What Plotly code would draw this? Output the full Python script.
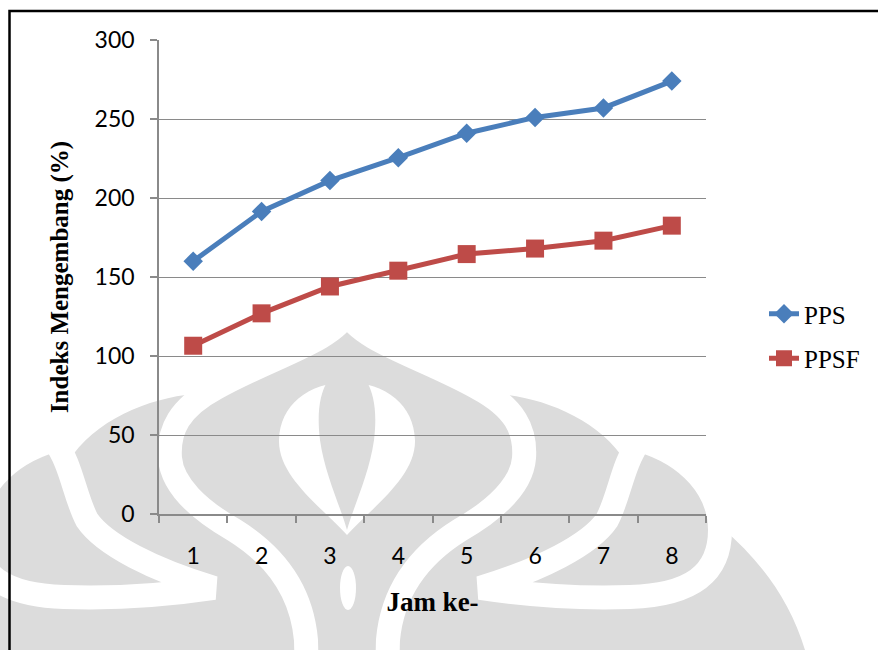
import plotly.graph_objects as go

# ---- data -------------------------------------------------------------
jam = [1, 2, 3, 4, 5, 6, 7, 8]
pps = [160, 191.5, 211, 225.5, 241, 251, 257, 274]
ppsf = [106.5, 127, 144, 154, 164.5, 168, 173, 182.5]
y_ticks = [0, 50, 100, 150, 200, 250, 300]

# ---- page geometry (pixels) ------------------------------------------
W, H = 878, 650
L, R, T, B = 159, 172, 40, 136
PW, PH = W - L - R, H - T - B

BLUE = "#4a7ebb"
RED = "#be4b48"
GRID = "#8a8a8a"
SHADE = "#dcdcdc"


def to_paper(x, y):
    return (x - L) / PW, (H - B - y) / PH


def path(spec, mirror=False, cx=347):
    """Turn a pixel-space SVG path into paper coordinates."""
    out = []
    for tok in spec.split():
        if "," in tok:
            x, y = (float(v) for v in tok.split(","))
            if mirror:
                x = 2 * cx - x
            px, py = to_paper(x, y)
            out.append(f"{px:.4f},{py:.4f}")
        else:
            out.append(tok)
    return " ".join(out)


# faint emblem in the page background
outer_petals = (
    "M 347,440 L 470,400 L 500,394 C 545,398 600,420 626,462 L 680,530 "
    "L 722,528 C 760,560 790,600 805,650 L 815,720 L 347,720 Z"
)
crescent = (
    "M 640,440 C 690,455 720,490 720,530 C 720,575 690,595 630,597 "
    "C 570,599 520,594 480,588 C 540,570 590,545 607,520 "
    "C 620,495 622,465 640,440 Z"
)
dome = (
    "M 347,312 C 358,340 425,358 478,388 C 515,408 526,430 524,458 "
    "C 522,485 495,510 460,530 C 415,558 392,595 388,640 L 386,720 "
    "L 308,720 L 306,640 C 302,595 279,558 234,530 C 199,510 172,485 170,458 "
    "C 168,430 179,408 216,388 C 269,358 336,340 347,312 Z"
)
inner = (
    "M 347,382 C 308,383 280,405 279,440 C 278,476 320,506 347,535 "
    "C 374,506 416,476 415,440 C 414,405 386,383 347,382 Z"
)
spindle = (
    "M 328,380 C 319,395 317,415 320,440 C 325,475 340,505 347,530 "
    "C 354,505 369,475 374,440 C 377,415 375,395 366,380 Z"
)

shapes = []
for mir in (False, True):
    shapes.append(dict(type="path", path=path(outer_petals, mir), xref="paper", yref="paper",
                       fillcolor=SHADE, line=dict(width=0), layer="below"))
for mir in (False, True):
    shapes.append(dict(type="path", path=path(crescent, mir), xref="paper", yref="paper",
                       fillcolor=SHADE, line=dict(color="white", width=24), layer="below"))
shapes.append(dict(type="path", path=path(dome), xref="paper", yref="paper",
                   fillcolor=SHADE, line=dict(color="white", width=24), layer="below"))
shapes.append(dict(type="path", path=path(inner), xref="paper", yref="paper",
                   fillcolor="white", line=dict(width=0), layer="below"))
shapes.append(dict(type="path", path=path(spindle), xref="paper", yref="paper",
                   fillcolor=SHADE, line=dict(width=0), layer="below"))
ex0, ey0 = to_paper(340, 610)
ex1, ey1 = to_paper(356, 566)
shapes.append(dict(type="circle", x0=ex0, x1=ex1, y0=ey0, y1=ey1, xref="paper", yref="paper",
                   fillcolor="white", line=dict(width=0), layer="below"))

# frame around the figure (top and left edges)
shapes.append(dict(type="path", path=path("M 9.5,660 L 9.5,11 L 890,11"),
                   xref="paper", yref="paper", line=dict(color="black", width=2.5)))

fig = go.Figure()
fig.add_trace(go.Scatter(
    x=jam, y=pps, name="PPS", mode="lines+markers", legendgroup="a",
    line=dict(color=BLUE, width=5),
    marker=dict(symbol="diamond", size=15, color=BLUE),
))
fig.add_trace(go.Scatter(
    x=jam, y=ppsf, name="PPSF", mode="lines+markers", legendgroup="b",
    line=dict(color=RED, width=5),
    marker=dict(symbol="square", size=18, color=RED),
))

fig.update_layout(
    width=W, height=H,
    margin=dict(l=L, r=R, t=T, b=B, autoexpand=False),
    paper_bgcolor="white",
    plot_bgcolor="rgba(0,0,0,0)",
    shapes=shapes,
    showlegend=True,
    legend=dict(
        x=(764 - L) / PW, xanchor="left",
        y=(H - B - 291) / PH, yanchor="top",
        font=dict(family="Liberation Serif", size=25, color="black"),
        traceorder="grouped", tracegroupgap=9,
        bgcolor="rgba(0,0,0,0)",
    ),
    xaxis=dict(
        range=[0.5, 8.5], tickvals=jam, ticktext=[str(j) for j in jam],
        ticks="", showgrid=False, zeroline=False,
        showline=True, linecolor=GRID, linewidth=1.5,
        tickfont=dict(family="Lato", size=23, color="black"),
        ticklabelstandoff=21,
        minor=dict(ticks="outside", tick0=0.5, dtick=1, ticklen=7,
                   tickcolor=GRID, tickwidth=1.5, showgrid=False),
        title=dict(text="<b>Jam ke-</b>", standoff=24,
                   font=dict(family="Liberation Serif", size=27, color="black")),
        fixedrange=True,
    ),
    yaxis=dict(
        range=[0, 300], tickvals=y_ticks,
        ticks="outside", ticklen=7, tickcolor=GRID, tickwidth=1.5,
        showgrid=True, gridcolor=GRID, gridwidth=1.3, zeroline=False,
        showline=True, linecolor=GRID, linewidth=1.5,
        tickfont=dict(family="Lato", size=23, color="black"),
        ticklabelstandoff=11,
        title=dict(text="<b>Indeks Mengembang (%)</b>", standoff=19,
                   font=dict(family="Liberation Serif", size=25, color="black")),
        fixedrange=True,
    ),
)

fig.write_html("out.html")
